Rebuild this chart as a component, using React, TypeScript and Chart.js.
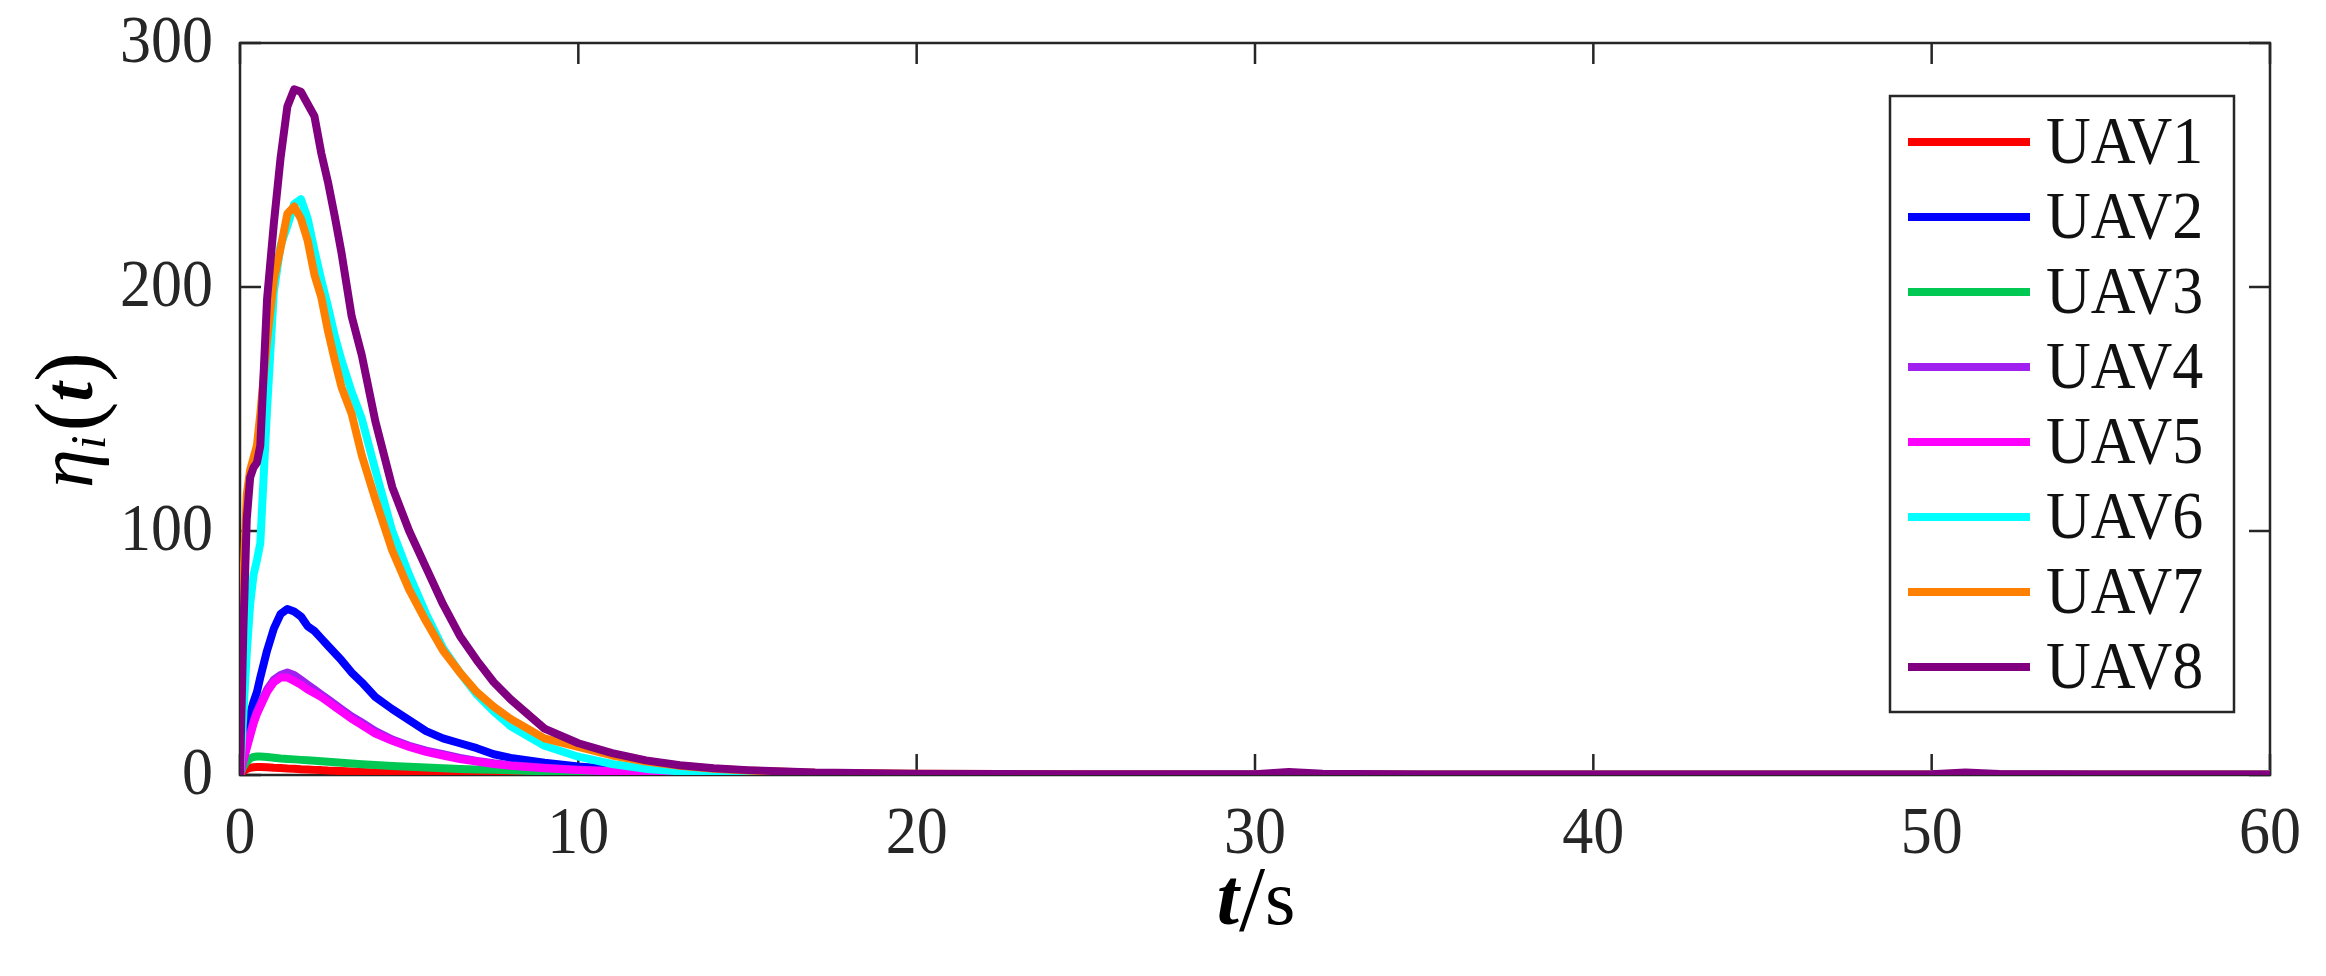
import React, { useEffect, useRef } from "react";
import { Chart, registerables } from "chart.js";

Chart.register(...registerables);

// time samples (s)
const TIME = [0, 0.1, 0.2, 0.3, 0.4, 0.5, 0.6, 0.8, 1.0, 1.2, 1.4, 1.6, 1.8, 2.0, 2.2, 2.4, 2.6, 2.8, 3.0, 3.3, 3.6, 4.0, 4.5, 5.0, 5.5, 6.0, 6.5, 7.0, 7.5, 8.0, 9, 10, 11, 12, 13, 14, 15, 17, 20, 25, 30, 31, 32, 35, 40, 45, 50, 51, 52, 55, 60];

const UAV1 = [0, 1.5, 2.5, 3, 3.2, 3.3, 3.3, 3.2, 3, 2.9, 2.7, 2.6, 2.4, 2.3, 2.1, 2, 1.8, 1.7, 1.6, 1.4, 1.2, 1, 0.8, 0.6, 0.5, 0.4, 0.3, 0.25, 0.2, 0.2, 0.15, 0.1, 0.1, 0.1, 0.1, 0.1, 0.1, 0.1, 0.1, 0.1, 0.1, 0.1, 0.1, 0.1, 0.1, 0.1, 0.1, 0.1, 0.1, 0.1, 0.1];
const UAV2 = [0, 10, 18, 25, 30, 34, 40, 51, 60, 66, 68, 67, 65, 61, 59, 56, 53, 50, 47, 42, 38, 32, 27, 22.5, 18, 15, 13, 11, 8.5, 7, 5, 3.5, 2.5, 1.8, 1.2, 0.8, 0.5, 0.3, 0.2, 0.2, 0.2, 0.3, 0.2, 0.2, 0.2, 0.2, 0.2, 0.3, 0.2, 0.2, 0.2];
const UAV3 = [0, 3.5, 5.5, 6.8, 7.4, 7.6, 7.6, 7.4, 7.1, 6.8, 6.6, 6.4, 6.2, 6, 5.8, 5.6, 5.4, 5.2, 5, 4.7, 4.4, 4.1, 3.7, 3.4, 3.1, 2.8, 2.5, 2.3, 2.1, 1.9, 1.5, 1.2, 1, 0.8, 0.6, 0.5, 0.4, 0.3, 0.2, 0.2, 0.2, 0.2, 0.2, 0.2, 0.2, 0.2, 0.2, 0.2, 0.2, 0.2, 0.2];
const UAV4 = [0, 6, 12, 17, 22, 26, 29, 35, 39, 41, 42, 41, 39, 37, 35, 33, 31, 29, 27, 24, 21.5, 18, 14.5, 12, 10, 8.5, 7, 5.8, 4.8, 4, 3, 2.2, 1.6, 1.1, 0.8, 0.6, 0.4, 0.3, 0.2, 0.2, 0.2, 0.3, 0.2, 0.2, 0.2, 0.2, 0.2, 0.3, 0.2, 0.2, 0.2];
const UAV5 = [0, 6, 11, 16, 21, 25, 28, 34, 38, 40, 40, 38.5, 37, 35, 33.5, 32, 30, 28, 26, 23, 20.5, 17, 14, 11.5, 9.5, 8, 6.5, 5.5, 4.5, 3.8, 2.8, 2, 1.5, 1, 0.7, 0.5, 0.4, 0.3, 0.2, 0.2, 0.2, 0.3, 0.2, 0.2, 0.2, 0.2, 0.2, 0.3, 0.2, 0.2, 0.2];
const UAV6 = [0, 25, 50, 70, 82, 88, 95, 150, 198, 217, 225, 234, 236, 228, 215, 203, 192, 180, 170, 157, 146, 125, 100, 82, 66, 52, 42, 33, 26, 20, 12, 7.5, 4.5, 2.5, 1.5, 0.8, 0.5, 0.3, 0.2, 0.2, 0.2, 0.3, 0.2, 0.2, 0.2, 0.2, 0.2, 0.3, 0.2, 0.2, 0.2];
const UAV7 = [0, 80, 115, 125, 130, 135, 148, 178, 203, 216, 230, 233, 228, 219, 205, 196, 182, 170, 159, 148, 131, 113, 92, 76, 63, 51, 42, 34, 28, 23, 15, 11.5, 8, 5.5, 3.8, 2.6, 1.8, 0.9, 0.5, 0.3, 0.2, 0.4, 0.3, 0.2, 0.2, 0.2, 0.2, 0.3, 0.2, 0.2, 0.2];
const UAV8 = [0, 60, 105, 122, 126, 128, 135, 195, 226, 253, 274, 281, 280, 275, 270, 255, 243, 229, 214, 188, 172, 145, 118, 100, 85, 70, 57, 47, 38, 31, 19, 13, 9, 6, 4, 2.8, 2, 1, 0.5, 0.3, 0.3, 1.2, 0.5, 0.2, 0.2, 0.2, 0.3, 1.0, 0.4, 0.2, 0.2];

const SERIES = [UAV1, UAV2, UAV3, UAV4, UAV5, UAV6, UAV7, UAV8];
const SERIES_LABELS = ["UAV1", "UAV2", "UAV3", "UAV4", "UAV5", "UAV6", "UAV7", "UAV8"];
const SERIES_COLORS = ["#ff0000", "#0000ff", "#00c853", "#a020f0", "#ff00ff", "#00ffff", "#ff8000", "#800080"];

const X_TICKS = [0, 10, 20, 30, 40, 50, 60];
const Y_TICKS = [0, 100, 200, 300];
const X_TICK_LABELS = ["0", "10", "20", "30", "40", "50", "60"];
const Y_TICK_LABELS = ["0", "100", "200", "300"];

const FONT = '"Liberation Serif", "Times New Roman", serif';
const AXIS_COLOR = "#262626";
const SY = 1.08; // vertical stretch of the glyphs

function stretchedText(ctx: CanvasRenderingContext2D, text: string, x: number, y: number) {
  ctx.save();
  ctx.translate(x, y);
  ctx.scale(1, SY);
  ctx.fillText(text, 0, 0);
  ctx.restore();
}

const framePlugin = {
  id: "matlabFrame",
  beforeDatasetsDraw(chart: any) {
    const { ctx, chartArea: a, scales } = chart;
    ctx.save();
    ctx.strokeStyle = AXIS_COLOR;
    ctx.lineWidth = 2.5;
    ctx.strokeRect(a.left, a.top, a.right - a.left, a.bottom - a.top);
    const TL = 21;
    ctx.beginPath();
    X_TICKS.forEach((v) => {
      const x = scales.x.getPixelForValue(v);
      ctx.moveTo(x, a.bottom);
      ctx.lineTo(x, a.bottom - TL);
      ctx.moveTo(x, a.top);
      ctx.lineTo(x, a.top + TL);
    });
    Y_TICKS.forEach((v) => {
      const y = scales.y.getPixelForValue(v);
      ctx.moveTo(a.left, y);
      ctx.lineTo(a.left + TL, y);
      ctx.moveTo(a.right, y);
      ctx.lineTo(a.right - TL, y);
    });
    ctx.stroke();

    // tick labels
    ctx.fillStyle = AXIS_COLOR;
    ctx.font = `62px ${FONT}`;
    ctx.textBaseline = "middle";
    ctx.textAlign = "center";
    X_TICKS.forEach((v, i) => {
      stretchedText(ctx, X_TICK_LABELS[i], scales.x.getPixelForValue(v), a.bottom + 60);
    });
    ctx.textAlign = "right";
    Y_TICKS.forEach((v, i) => {
      stretchedText(ctx, Y_TICK_LABELS[i], a.left - 27, scales.y.getPixelForValue(v) + 1);
    });
    ctx.restore();
  },
  afterDraw(chart: any) {
    const { ctx, chartArea: a } = chart;
    ctx.save();
    // ---- legend ----
    const boxRight = a.right - 36;
    const boxLeft = boxRight - 344;
    const boxTop = a.top + 53;
    const pitch = 75;
    const n = chart.data.datasets.length;
    const firstRow = boxTop + 46;
    const boxBottom = firstRow + (n - 1) * pitch + 45;
    ctx.fillStyle = "#ffffff";
    ctx.fillRect(boxLeft, boxTop, boxRight - boxLeft, boxBottom - boxTop);
    ctx.strokeStyle = AXIS_COLOR;
    ctx.lineWidth = 2.5;
    ctx.strokeRect(boxLeft, boxTop, boxRight - boxLeft, boxBottom - boxTop);
    ctx.font = `62px ${FONT}`;
    ctx.textAlign = "left";
    ctx.textBaseline = "middle";
    chart.data.datasets.forEach((ds: any, i: number) => {
      const y = firstRow + i * pitch;
      ctx.strokeStyle = ds.borderColor;
      ctx.lineWidth = 8;
      ctx.beginPath();
      ctx.moveTo(boxLeft + 18, y);
      ctx.lineTo(boxLeft + 140, y);
      ctx.stroke();
      ctx.fillStyle = "#111111";
      stretchedText(ctx, ds.label, boxLeft + 156, y + 3);
    });

    // ---- x title: t/s ----
    ctx.fillStyle = "#000000";
    ctx.textBaseline = "alphabetic";
    ctx.textAlign = "left";
    const xParts = [
      { t: "t", f: `italic bold 80px ${FONT}`, dy: 0 },
      { t: "/", f: `94px ${FONT}`, dy: 6 },
      { t: "s", f: `78px ${FONT}`, dy: 0 },
    ];
    let wsum = 0;
    xParts.forEach((p) => { ctx.font = p.f; wsum += ctx.measureText(p.t).width; });
    let cx = 1256 - wsum / 2;
    const xBase = 924;
    xParts.forEach((p) => {
      ctx.font = p.f;
      ctx.fillText(p.t, cx, xBase + p.dy);
      cx += ctx.measureText(p.t).width;
    });

    // ---- y title: eta_i(t) ----
    ctx.translate(92, 420);
    ctx.rotate(-Math.PI / 2);
    const yParts = [
      { t: "\u03B7", f: `italic 78px ${FONT}`, dy: 0 },
      { t: "i", f: `italic 50px ${FONT}`, dy: 13 },
      { t: "(", f: `90px ${FONT}`, dy: 6 },
      { t: "t", f: `italic bold 70px ${FONT}`, dy: 0 },
      { t: ")", f: `90px ${FONT}`, dy: 6 },
    ];
    let ysum = 0;
    yParts.forEach((p) => { ctx.font = p.f; ysum += ctx.measureText(p.t).width; });
    ysum += 4;
    let px = -ysum / 2;
    yParts.forEach((p, idx) => {
      ctx.font = p.f;
      ctx.fillText(p.t, px, p.dy);
      px += ctx.measureText(p.t).width + (idx === 1 ? 4 : 0);
    });
    ctx.restore();
  },
};

export default function App() {
  const canvasRef = useRef<HTMLCanvasElement | null>(null);

  useEffect(() => {
    const canvas = canvasRef.current;
    if (!canvas) return;
    const datasets = SERIES.map((vals, i) => ({
      label: SERIES_LABELS[i],
      data: TIME.map((t, k) => ({ x: t, y: vals[k] })),
      borderColor: SERIES_COLORS[i],
      backgroundColor: SERIES_COLORS[i],
      borderWidth: 8,
      pointRadius: 0,
      tension: 0,
      fill: false,
      borderJoinStyle: "round" as const,
      order: SERIES.length - i,
    }));
    const chart = new Chart(canvas, {
      type: "line",
      data: { datasets },
      options: {
        animation: false,
        responsive: false,
        devicePixelRatio: 1,
        layout: { padding: { left: 0, top: 43, right: 56, bottom: 0 } },
        plugins: { legend: { display: false }, tooltip: { enabled: false } },
        scales: {
          x: {
            type: "linear",
            min: 0,
            max: 60,
            grid: { display: false, drawTicks: false },
            border: { display: false },
            ticks: { display: false, stepSize: 10 },
            afterFit: (s: any) => { s.height = 201; },
          },
          y: {
            type: "linear",
            min: 0,
            max: 300,
            grid: { display: false, drawTicks: false },
            border: { display: false },
            ticks: { display: false, stepSize: 100 },
            afterFit: (s: any) => { s.width = 240; },
          },
        },
      },
      plugins: [framePlugin],
    });
    return () => chart.destroy();
  }, []);

  return (
    <div style={{ position: "fixed", left: 0, top: 0, width: 2326, height: 976, background: "#ffffff" }}>
      <canvas ref={canvasRef} width={2326} height={976} style={{ display: "block", width: 2326, height: 976 }} />
    </div>
  );
}
